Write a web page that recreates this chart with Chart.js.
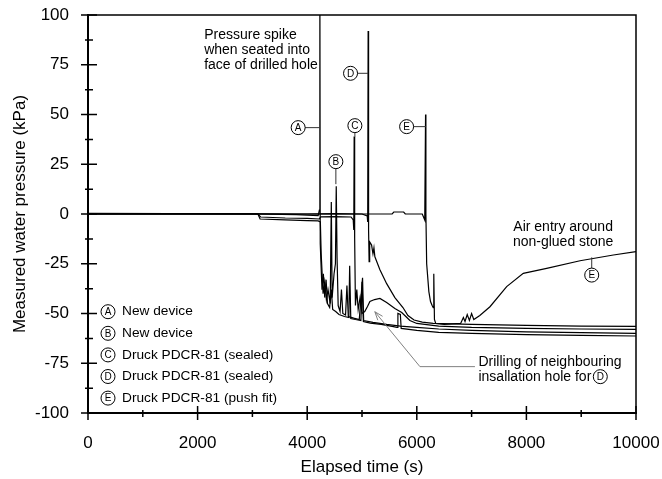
<!DOCTYPE html>
<html>
<head>
<meta charset="utf-8">
<script src="https://cdn.jsdelivr.net/npm/chart.js@4.4.1/dist/chart.umd.min.js"></script>
<style>
  html, body { margin: 0; padding: 0; background: #fff; }
  canvas { display: block; }
</style>
</head>
<body>
<canvas id="chart" width="662" height="479"></canvas>
<script>
const FONT = '"Liberation Sans", Arial, Helvetica, sans-serif'

const xTicks = [0, 2000, 4000, 6000, 8000, 10000]
const yTicks = [-100, -75, -50, -25, 0, 25, 50, 75, 100]
const xMinorTicks = [1000, 3000, 5000, 7000, 9000]
const yMinorTicks = [-87.5, -62.5, -37.5, -12.5, 12.5, 37.5, 62.5, 87.5]

const seriesKeys = ["A", "B", "C", "D", "E"]
const seriesNames = ["New device", "New device", "Druck PDCR-81 (sealed)", "Druck PDCR-81 (sealed)", "Druck PDCR-81 (push fit)"]

// [elapsed time (s), pressure (kPa)]
const deviceA = [[0, 0.3], [1500, 0.2], [3000, 0.1], [3800, -0.3], [4200, -0.8], [4222, 2], [4231, 125], [4238, -15],
  [4270, -38], [4295, -30], [4320, -42], [4345, -33], [4370, -45], [4410, -47], [4440, -38], [4465, -48], [4520, -49],
  [4580, -50.5], [4680, -51.5], [4760, -52], [4775, -26], [4795, -52.5], [4880, -53], [4980, -53.5], [5000, -34],
  [5025, -54], [5150, -54.8], [5350, -55.5], [5550, -56.5], [5640, -57], [5655, -50], [5700, -50.5], [5715, -57.5],
  [6000, -58.5], [6400, -59.5], [7000, -60], [8000, -60.6], [9000, -61], [10000, -61.3]]

const deviceB = [[0, 0], [3100, 0], [3140, -2.5], [3600, -3], [4000, -3.3], [4200, -3.5], [4240, -4], [4255, -20],
  [4290, -40], [4320, -34], [4350, -43], [4380, -38], [4420, -45], [4440, 6], [4455, -42], [4490, -30], [4515, -25],
  [4530, 14], [4545, -22], [4565, -46], [4600, -49], [4625, -38], [4650, -50], [4700, -50.8], [4725, -36], [4750, -51.5],
  [4850, -52.3], [4950, -53], [5010, -32], [5030, -53.5], [5200, -54.5], [5450, -55.5], [5700, -56.3], [6000, -57],
  [6400, -57.8], [7000, -58.5], [8000, -59.2], [9000, -59.6], [10000, -60]]

const druckC = [[0, 0], [3100, 0], [3150, -1.5], [3600, -2], [4000, -2.2], [4220, -2.5], [4250, -1.4], [4500, -1.3],
  [4800, -1.5], [4840, -3], [4850, -8], [4857, 39], [4866, -12], [4880, -46], [4905, -38], [4930, -48], [4965, -42],
  [5000, -50], [5050, -49], [5100, -46.5], [5144, -44], [5230, -43], [5327, -42.4], [5450, -44.5], [5600, -47.5],
  [5725, -49.5], [5800, -51.5], [5874, -53.5], [6000, -55], [6400, -56.3], [7000, -57], [8000, -57.5], [9000, -57.8],
  [10000, -58]]

const druckD = [[0, 0], [2000, 0.2], [4000, 0], [4500, 0.2], [5000, 0], [5095, -1], [5104, -4], [5112, 92], [5120, -8],
  [5130, -24], [5140, -14], [5175, -15.6], [5200, -20], [5218, -17], [5235, -21.5], [5327, -28], [5450, -35],
  [5600, -42], [5747, -47], [5838, -51], [5950, -53.3], [6100, -54.3], [6300, -55], [7000, -55.5], [8000, -56],
  [9000, -56.3], [10000, -56.5]]

const druckE = [[0, 0], [2000, 0], [4000, 0], [5000, 0], [5550, 0], [5580, 1], [5760, 1], [5790, 0], [6100, 0],
  [6145, -3], [6160, 50], [6166, 0], [6180, -25], [6220, -39], [6250, -44], [6280, -46], [6300, -47], [6310, -30],
  [6322, -53], [6345, -55], [6500, -55.5], [6800, -55], [6850, -52], [6880, -54], [6920, -50.5], [6960, -53.5],
  [7000, -50], [7040, -53], [7150, -51], [7335, -46.6], [7640, -36.5], [7943, -29.8], [8370, -27.3], [8979, -23.5],
  [9587, -20.6], [10000, -18.9]]

const allSeries = [deviceA, deviceB, druckC, druckD, druckE]

// annotations, anchored in data units
const textNotes = [
  { at: [2120, 90], align: "left", lines: ["Pressure spike", "when seated into", "face of drilled hole"] },
  { at: [8670, -6.4], align: "center", lines: ["Air entry around", "non-glued stone"] },
  { at: [7125, -74.2], align: "left", lines: ["Drilling of neighbouring", "insallation hole for"], badge: "D" }
]
const badgeNotes = [
  { key: "A", at: [3835, 43.4], to: [4231, 43.4] },
  { key: "B", at: [4523, 26.3], to: [4523, 15] },
  { key: "C", at: [4870, 44.4], to: [4870, 38.8] },
  { key: "D", at: [4791, 70.7], to: [5112, 70.7] },
  { key: "E", at: [5814, 43.9], to: [6166, 43.9] },
  { key: "E", at: [9192, -30.7], to: [9192, -21.8] }
]
const drillArrow = [[7061, -76.7], [6057, -76.7], [5234, -49.1]]
const legendAnchor = [365, -49.1]

function drawBadge(ctx, cx, cy, letter) {
  ctx.beginPath()
  ctx.arc(cx, cy, 7, 0, Math.PI * 2)
  ctx.fillStyle = "#fff"
  ctx.fill()
  ctx.strokeStyle = "#000"
  ctx.lineWidth = 1
  ctx.stroke()
  ctx.fillStyle = "#000"
  ctx.font = "10px " + FONT
  ctx.textAlign = "center"
  ctx.textBaseline = "middle"
  ctx.fillText(letter, cx, cy + 0.5)
}

function noAxisPadding(s) {
  s.paddingTop = 0
  s.paddingBottom = 0
  s.paddingLeft = 0
  s.paddingRight = 0
}

const overlay = {
  id: "overlay",
  afterDraw(chart) {
    const { ctx, chartArea: a } = chart
    const x = chart.scales.x
    const y = chart.scales.y
    const px = v => x.getPixelForValue(v)
    const py = v => y.getPixelForValue(v)
    ctx.save()

    // frame top + right
    ctx.strokeStyle = "#000"
    ctx.lineWidth = 1.5
    ctx.beginPath()
    ctx.moveTo(a.left, a.top)
    ctx.lineTo(a.right, a.top)
    ctx.lineTo(a.right, a.bottom)
    ctx.stroke()

    // tick marks crossing the axes
    ctx.lineWidth = 1.5
    ctx.beginPath()
    yTicks.forEach(v => { ctx.moveTo(a.left - 7, py(v)); ctx.lineTo(a.left + 9, py(v)) })
    yMinorTicks.forEach(v => { ctx.moveTo(a.left - 3, py(v)); ctx.lineTo(a.left + 5, py(v)) })
    xTicks.forEach(v => { ctx.moveTo(px(v), a.bottom - 7); ctx.lineTo(px(v), a.bottom + 7) })
    xMinorTicks.forEach(v => { ctx.moveTo(px(v), a.bottom - 3); ctx.lineTo(px(v), a.bottom + 4) })
    ctx.stroke()

    // drilling arrow
    ctx.strokeStyle = "#808080"
    ctx.lineWidth = 1
    ctx.beginPath()
    ctx.moveTo(px(drillArrow[0][0]), py(drillArrow[0][1]))
    drillArrow.slice(1).forEach(p => ctx.lineTo(px(p[0]), py(p[1])))
    ctx.stroke()
    const tip = drillArrow[2], bend = drillArrow[1]
    const tx = px(tip[0]), ty = py(tip[1])
    const ang = Math.atan2(ty - py(bend[1]), tx - px(bend[0]))
    ctx.beginPath()
    ctx.moveTo(tx - 9 * Math.cos(ang - 0.35), ty - 9 * Math.sin(ang - 0.35))
    ctx.lineTo(tx, ty)
    ctx.lineTo(tx - 9 * Math.cos(ang + 0.35), ty - 9 * Math.sin(ang + 0.35))
    ctx.stroke()

    // text notes
    ctx.font = "14px " + FONT
    ctx.fillStyle = "#000"
    ctx.textBaseline = "middle"
    textNotes.forEach(n => {
      ctx.textAlign = n.align
      n.lines.forEach((line, i) => ctx.fillText(line, px(n.at[0]), py(n.at[1]) + i * 15))
    })
    textNotes.filter(n => n.badge).forEach(n => {
      ctx.font = "14px " + FONT
      const last = n.lines[n.lines.length - 1]
      const w = ctx.measureText(last).width
      drawBadge(ctx, px(n.at[0]) + w + 9, py(n.at[1]) + (n.lines.length - 1) * 15, n.badge)
    })

    // labelled leaders
    badgeNotes.forEach(b => {
      ctx.strokeStyle = "#333"
      ctx.lineWidth = 1
      ctx.beginPath()
      ctx.moveTo(px(b.to[0]), py(b.to[1]))
      ctx.lineTo(px(b.at[0]), py(b.at[1]))
      ctx.stroke()
      drawBadge(ctx, px(b.at[0]), py(b.at[1]), b.key)
    })

    // key
    const lx = px(legendAnchor[0]), ly = py(legendAnchor[1])
    seriesKeys.forEach((k, i) => {
      drawBadge(ctx, lx, ly + i * 21.6, k)
      ctx.font = "13.7px " + FONT
      ctx.textAlign = "left"
      ctx.textBaseline = "middle"
      ctx.fillText(seriesNames[i], lx + 14, ly + i * 21.6)
    })
    ctx.restore()
  }
}

const datasets = allSeries.map((s, i) => ({
  label: seriesKeys[i],
  data: s.map(p => ({ x: p[0], y: p[1] })),
  borderColor: "#000",
  borderWidth: 1.2,
  pointRadius: 0,
  tension: 0,
  fill: false
}))

new Chart(document.getElementById("chart"), {
  type: "line",
  data: { datasets },
  options: {
    responsive: false,
    animation: false,
    events: [],
    layout: { padding: { top: 15, right: 26, left: 0, bottom: 0 } },
    plugins: { legend: { display: false }, tooltip: { enabled: false } },
    scales: {
      x: {
        type: "linear",
        min: 0,
        max: 10000,
        afterBuildTicks: s => { s.ticks = xTicks.map(v => ({ value: v })) },
        afterFit: s => { s.height = 66; noAxisPadding(s) },
        ticks: { color: "#000", font: { family: FONT, size: 17 }, padding: 20, maxRotation: 0, callback: v => String(v) },
        grid: { display: false, drawTicks: false },
        border: { display: true, color: "#000", width: 2 },
        title: { display: true, text: "Elapsed time (s)", color: "#000", font: { family: FONT, size: 17 }, padding: { top: 0, bottom: 1 } }
      },
      y: {
        min: -100,
        max: 100,
        afterBuildTicks: s => { s.ticks = yTicks.map(v => ({ value: v })) },
        afterFit: s => { s.width = 88; noAxisPadding(s) },
        ticks: { color: "#000", font: { family: FONT, size: 17 }, padding: 19, callback: v => String(v) },
        grid: { display: false, drawTicks: false },
        border: { display: true, color: "#000", width: 2 },
        title: { display: true, text: "Measured water pressure (kPa)", color: "#000", font: { family: FONT, size: 17 }, padding: { top: 10, bottom: 0 } }
      }
    }
  },
  plugins: [overlay]
})
</script>
</body>
</html>
